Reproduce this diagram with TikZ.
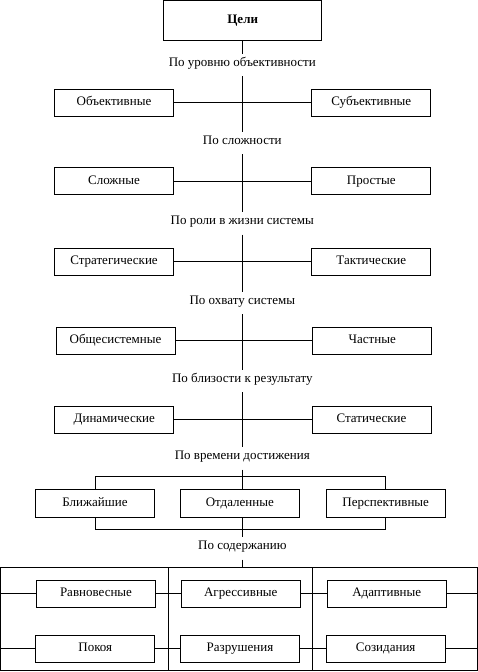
\documentclass[tikz,border=0pt]{standalone}
\usepackage{fontspec}
\setmainfont{Liberation Serif}
\begin{document}
\begin{tikzpicture}[x=1pt,y=-1pt,line width=1pt,
  txt/.style={font=\fontsize{13}{15}\selectfont},
  box/.style={draw,txt,minimum width=119pt,minimum height=27pt,inner sep=0pt,text height=9pt,text depth=3pt},
  lab/.style={txt,anchor=base,inner xsep=2pt,inner ysep=0pt,text height=12pt,text depth=9.5pt}]
\useasboundingbox (0,0) rectangle (478,672);
% goal
\node[box,minimum width=158.5pt,minimum height=40pt,font=\fontsize{13}{15}\selectfont\bfseries] (goal) at (242.7,20.5) {Цели};
% labels
\node[lab] (l1) at (242.3,66.3) {По уровню объективности};
\node[lab] (l2) at (242.3,144.3) {По сложности};
\node[lab] (l3) at (242.3,224.5) {По роли в жизни системы};
\node[lab] (l4) at (242.3,304) {По охвату системы};
\node[lab] (l5) at (242.3,382) {По близости к результату};
\node[lab] (l6) at (242.3,459.6) {По времени достижения};
\node[lab] (l7) at (242.3,549.6) {По содержанию};
% pair rows
\node[box] (r1a) at (114,102.8) {Объективные};
\node[box] (r1b) at (371.3,102.8) {Субъективные};
\node[box] (r2a) at (114,181.3) {Сложные};
\node[box] (r2b) at (371.3,181.3) {Простые};
\node[box] (r3a) at (114,261.8) {Стратегические};
\node[box] (r3b) at (371.3,261.8) {Тактические};
\node[box] (r4a) at (115.5,340.8) {Общесистемные};
\node[box] (r4b) at (372.3,340.8) {Частные};
\node[box] (r5a) at (114.3,419.7) {Динамические};
\node[box] (r5b) at (371.5,419.7) {Статические};
% vertical spine
\draw (goal.south -| l1.north) -- (l1.north);
\draw (l1.south) -- (l2.north);
\draw (l2.south) -- (l3.north);
\draw (l3.south) -- (l4.north);
\draw (l4.south) -- (l5.north);
\draw (l5.south) -- (l6.north);
% horizontals
\draw (r1a.east) -- (r1b.west);
\draw (r2a.east) -- (r2b.west);
\draw (r3a.east) -- (r3b.west);
\draw (r4a.east) -- (r4b.west);
\draw (r5a.east) -- (r5b.west);
% time row
\node[box,minimum height=28pt] (t1) at (95,503.3) {Ближайшие};
\node[box,minimum height=28pt] (t2) at (239.8,503.3) {Отдаленные};
\node[box,minimum height=28pt] (t3) at (385.7,503.3) {Перспективные};
\draw (t1.north) -- ++(0,-12) -| (t3.north);
\draw (t1.south) -- ++(0,12) -| (t3.south);
\draw (l6.south) -- (l6.south |- t2.north);
\draw (t2.south -| l7.north) -- (l7.north);
% content frame
\coordinate (FTL) at (0.5,567.5);
\coordinate (FBR) at (477.5,670.5);
\coordinate (D1) at (168.3,567.5);
\coordinate (D2) at (312.3,567.5);
\draw (FTL) rectangle (FBR);
\draw (D1) -- (D1 |- FBR);
\draw (D2) -- (D2 |- FBR);
\draw (l7.south) -- (l7.south |- FTL);
\node[box] (a1) at (96,593.7) {Равновесные};
\node[box] (a2) at (240.8,593.7) {Агрессивные};
\node[box] (a3) at (386.7,593.7) {Адаптивные};
\node[box] (b1) at (95.3,648.5) {Покоя};
\node[box] (b2) at (240,648.5) {Разрушения};
\node[box] (b3) at (385.7,648.5) {Созидания};
\draw (FTL |- a1.west) -- (a1.west);
\draw (a1.east) -- (a2.west);
\draw (a2.east) -- (a3.west);
\draw (a3.east) -- (FBR |- a3.east);
\draw (FTL |- b1.west) -- (b1.west);
\draw (b1.east) -- (b2.west);
\draw (b2.east) -- (b3.west);
\draw (b3.east) -- (FBR |- b3.east);
\end{tikzpicture}
\end{document}
